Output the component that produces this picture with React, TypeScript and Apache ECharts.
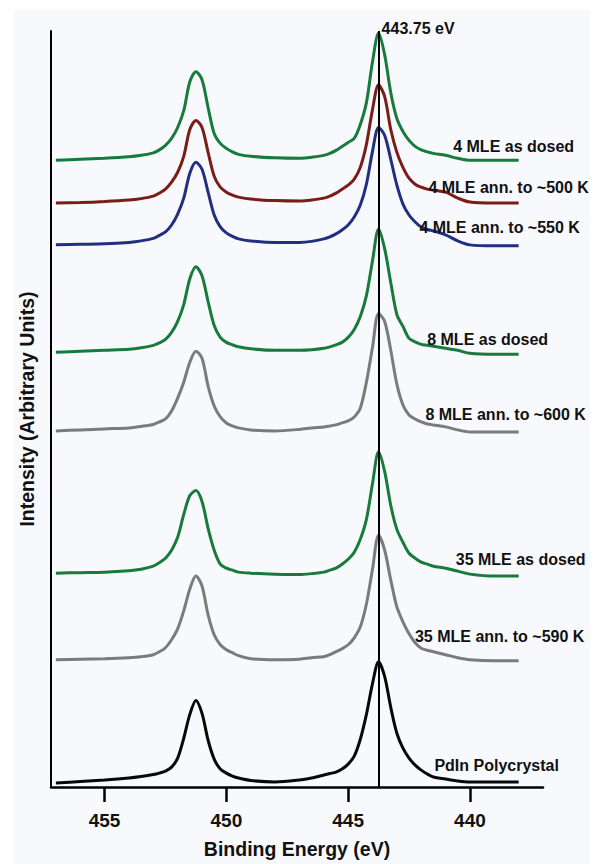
import React, { useEffect, useRef } from 'react';
import * as echarts from 'echarts';

// Binding energy grid (eV), shared by all spectra
const energies = [457, 456, 455, 454, 453.5, 453, 452.75, 452.5, 452.25, 452, 451.75, 451.5, 451.25, 451, 450.75, 450.5, 450.25, 450, 449.75, 449.5, 449, 448, 447, 446.5, 446, 445.75, 445.5, 445.25, 445, 444.75, 444.5, 444.25, 444, 443.75, 443.5, 443.25, 443, 442.75, 442.5, 442.25, 442, 441.75, 441.5, 441, 440.5, 440, 439, 438];

// Intensities (arbitrary units, offset stack as in the figure)
const mle4Dosed = [63.0, 63.1, 63.2, 63.35, 63.5, 63.75, 64.05, 64.5, 65.2, 66.3, 68.0, 70.9, 71.9, 71.1, 68.3, 65.7, 64.7, 64.2, 63.85, 63.6, 63.4, 63.25, 63.2, 63.3, 63.5, 63.7, 64.0, 64.4, 64.8, 65.2, 66.6, 68.8, 72.9, 75.8, 73.6, 69.8, 67.2, 65.9, 65.0, 64.4, 64.05, 63.85, 63.7, 63.5, 63.2, 63.0, 63.0, 63.0];
const mle4Ann500 = [58.7, 58.75, 58.85, 59.0, 59.15, 59.4, 59.7, 60.1, 60.8, 61.8, 63.4, 66.1, 67.0, 66.3, 63.8, 61.4, 60.3, 59.8, 59.5, 59.3, 59.1, 58.95, 58.9, 59.0, 59.2, 59.4, 59.7, 60.1, 60.5, 61.1, 62.3, 64.6, 68.1, 70.6, 69.4, 66.1, 63.8, 62.3, 61.2, 60.6, 60.3, 60.1, 60.0, 59.8, 59.2, 58.8, 58.7, 58.7];
const mle4Ann550 = [54.5, 54.55, 54.6, 54.75, 54.9, 55.15, 55.45, 55.8, 56.5, 57.6, 59.2, 61.7, 62.8, 62.1, 59.8, 57.5, 56.3, 55.7, 55.35, 55.1, 54.9, 54.75, 54.75, 54.85, 55.1, 55.3, 55.6, 56.0, 56.5, 57.3, 58.5, 60.6, 63.9, 66.3, 65.5, 63.1, 60.5, 58.6, 57.5, 56.8, 56.3, 56.05, 55.9, 55.5, 54.9, 54.5, 54.4, 54.4];
const mle8Dosed = [43.7, 43.8, 43.9, 44.0, 44.15, 44.4, 44.65, 45.0, 45.7, 46.8, 48.5, 51.1, 52.3, 51.4, 48.8, 46.4, 45.2, 44.7, 44.45, 44.25, 44.05, 43.9, 43.9, 43.95, 44.1, 44.25, 44.45, 44.7, 45.2, 46.0, 47.3, 49.4, 52.9, 56.1, 54.1, 50.7, 47.5, 46.3, 45.1, 44.75, 44.5, 44.4, 44.3, 44.1, 43.9, 43.6, 43.5, 43.5];
const mle8Ann600 = [35.8, 35.9, 36.0, 36.1, 36.25, 36.45, 36.7, 37.0, 37.8, 39.1, 40.7, 42.7, 43.8, 43.1, 40.3, 38.3, 37.2, 36.6, 36.3, 36.1, 35.9, 35.8, 35.95, 36.1, 36.2, 36.3, 36.4, 36.6, 36.8, 37.2, 38.1, 40.7, 44.2, 47.6, 46.8, 43.9, 40.5, 38.4, 37.4, 37.0, 36.7, 36.5, 36.4, 36.2, 35.9, 35.7, 35.7, 35.7];
const mle35Dosed = [21.5, 21.55, 21.6, 21.75, 21.9, 22.2, 22.55, 23.0, 23.8, 25.1, 27.4, 29.3, 29.8, 28.7, 26.0, 23.8, 22.4, 22.0, 21.8, 21.6, 21.5, 21.4, 21.35, 21.45, 21.6, 21.8, 22.0, 22.4, 22.9, 23.6, 24.9, 26.9, 30.5, 33.7, 31.7, 28.3, 25.9, 24.6, 23.5, 23.0, 22.6, 22.4, 22.2, 22.0, 21.7, 21.4, 21.2, 21.2];
const mle35Ann590 = [12.8, 12.85, 12.9, 13.0, 13.1, 13.3, 13.6, 14.0, 14.8, 15.9, 17.7, 19.9, 21.2, 20.2, 17.3, 15.3, 14.3, 13.8, 13.5, 13.2, 12.9, 12.8, 12.85, 13.0, 13.1, 13.3, 13.6, 13.9, 14.3, 15.0, 16.1, 18.4, 21.9, 25.3, 23.8, 20.8, 18.1, 16.6, 15.4, 14.5, 13.95, 13.75, 13.6, 13.3, 13.0, 12.8, 12.7, 12.7];
const pdInPoly = [0.4, 0.55, 0.7, 0.9, 1.05, 1.25, 1.4, 1.6, 2.0, 2.9, 4.9, 7.3, 8.7, 7.4, 4.7, 2.8, 1.8, 1.4, 1.1, 0.9, 0.65, 0.5, 0.7, 0.9, 1.2, 1.35, 1.5, 1.8, 2.3, 3.1, 4.8, 7.3, 10.4, 12.6, 11.1, 8.0, 5.4, 3.9, 2.9, 2.2, 1.7, 1.3, 1.0, 0.8, 0.6, 0.5, 0.5, 0.5];

const seriesNames = [
  '4 MLE as dosed',
  '4 MLE ann. to ~500 K',
  '4 MLE ann. to ~550 K',
  '8 MLE as dosed',
  '8 MLE ann. to ~600 K',
  '35 MLE as dosed',
  '35 MLE ann. to ~590 K',
  'PdIn Polycrystal',
];
const seriesValues = [mle4Dosed, mle4Ann500, mle4Ann550, mle8Dosed, mle8Ann600, mle35Dosed, mle35Ann590, pdInPoly];

const tickValues = [455, 450, 445, 440];
const referenceEnergy = 443.75;
const referenceLabel = '443.75 eV';

// styles
const lineColors = ['#187a3c', '#7a1d18', '#222f80', '#187a3c', '#7b7b7b', '#187a3c', '#7b7b7b', '#080808'];
const labelOffsets = [[-5, -14], [-10, -16], [-19, -18], [-31, -15], [-13, -17], [2, -17], [-19, -24], [-22, -17]];
const FONT = '"Liberation Sans", Arial, Helvetica, sans-serif';

export default function App() {
  const ref = useRef<HTMLDivElement>(null);

  useEffect(() => {
    document.body.style.margin = '0';
    document.body.style.background = '#ffffff';
    const chart = echarts.init(ref.current!, null, { renderer: 'svg' });
    const last = energies.length - 1;

    const series: any[] = seriesValues.map((vals, idx) => {
      const s: any = {
        type: 'line',
        name: seriesNames[idx],
        data: energies.map((e, i) => [e, vals[i]]),
        showSymbol: false,
        symbol: 'none',
        smooth: 0.3,
        clip: false,
        z: 2,
        lineStyle: { color: lineColors[idx], width: 3 },
        markPoint: {
          symbol: 'rect',
          symbolSize: 0,
          silent: true,
          animation: false,
          data: [
            {
              coord: [energies[last], vals[last]],
              label: {
                show: true,
                position: 'inside',
                formatter: seriesNames[idx],
                offset: labelOffsets[idx],
                color: '#111111',
                fontSize: 16,
                fontWeight: 'bold',
                fontFamily: FONT,
              },
            },
          ],
        },
      };
      if (idx === seriesValues.length - 1) {
        s.z = 3;
        s.markLine = {
          symbol: ['none', 'none'],
          silent: true,
          animation: false,
          label: { show: false },
          lineStyle: { color: '#000000', width: 2, type: 'solid' },
          data: [{ xAxis: referenceEnergy }],
        };
        s.markPoint.data.push({
          coord: [referenceEnergy, 76],
          label: {
            show: true,
            position: 'right',
            distance: 3,
            offset: [0, -3],
            formatter: referenceLabel,
            color: '#111111',
            fontSize: 16,
            fontWeight: 'bold',
            fontFamily: FONT,
          },
        });
      }
      return s;
    });

    chart.setOption({
      animation: false,
      backgroundColor: '#ffffff',
      graphic: [
        {
          type: 'rect',
          z: -10,
          silent: true,
          shape: { x: 14, y: 10, width: 576, height: 854 },
          style: { fill: '#f8f9fc' },
        },
      ],
      grid: { left: 51, right: 57, top: 31, bottom: 73 },
      xAxis: {
        type: 'value',
        min: 437,
        max: 457.2,
        inverse: true,
        name: 'Binding Energy (eV)',
        nameLocation: 'middle',
        nameGap: 52,
        nameTextStyle: { fontSize: 19.5, fontWeight: 'bold', color: '#111111', fontFamily: FONT },
        axisLine: { show: true, onZero: false, lineStyle: { color: '#000000', width: 2.5 } },
        axisTick: { show: true, inside: false, length: 15, customValues: tickValues, lineStyle: { color: '#000000', width: 2.5 } },
        axisLabel: { show: true, customValues: tickValues, margin: 24, fontSize: 19, fontWeight: 'bold', color: '#111111', fontFamily: FONT },
        splitLine: { show: false },
      },
      yAxis: {
        type: 'value',
        min: 0,
        max: 76,
        name: 'Intensity (Arbitrary Units)',
        nameLocation: 'middle',
        nameGap: 14,
        nameTextStyle: { fontSize: 19.5, fontWeight: 'bold', color: '#111111', fontFamily: FONT },
        axisLine: { show: true, onZero: false, lineStyle: { color: '#000000', width: 2 } },
        axisTick: { show: false },
        axisLabel: { show: false },
        splitLine: { show: false },
      },
      series,
    });

    return () => chart.dispose();
  }, []);

  return <div ref={ref} style={{ width: 600, height: 864 }} />;
}
